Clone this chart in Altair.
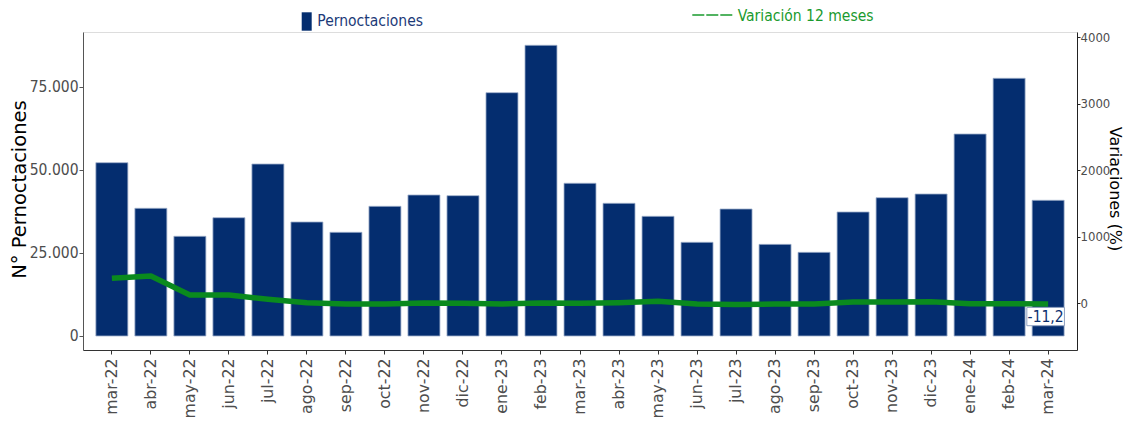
import altair as alt
import pandas as pd

meses = ["mar-22", "abr-22", "may-22", "jun-22", "jul-22", "ago-22", "sep-22", "oct-22",
         "nov-22", "dic-22", "ene-23", "feb-23", "mar-23", "abr-23", "may-23", "jun-23",
         "jul-23", "ago-23", "sep-23", "oct-23", "nov-23", "dic-23", "ene-24", "feb-24", "mar-24"]
pernoctaciones = [52200, 38460, 30030, 35630, 51800, 34340, 31230, 39060,
                  42470, 42270, 73290, 87560, 46000, 39970, 36050, 28220,
                  38250, 27600, 25200, 37350, 41660, 42770, 60840, 77620, 40870]
variacion = [376, 410, 125, 125, 62, 8, -10, -12,
             4, 0, -10, 5, 0, 10, 30, -10,
             -18, -12, -10, 18, 20, 25, -5, -5, -11.2]
etiqueta_mes = ["mar-24"]
etiqueta_valor = [-11.2]
etiqueta_texto = ["-11,2"]

NAVY = "#042D6F"
GREEN = "#0A8A1E"
COND = "DejaVu Sans Condensed"

df = pd.DataFrame({"mes": meses, "pern": pernoctaciones, "var": variacion})
df_lab = pd.DataFrame({"mes": etiqueta_mes, "var": etiqueta_valor, "txt": etiqueta_texto})
one = pd.DataFrame({"k": [0]})

xscale = alt.Scale(domain=meses, paddingInner=0.18, paddingOuter=0.33)
xenc = alt.X("mes:N", sort=meses, scale=xscale,
             axis=alt.Axis(title=None, labelAngle=-90, labelFont="DejaVu Sans", labelFontSize=15.8,
                           labelColor="#4d4d4d", labelBaseline="middle", labelAlign="right",
                           labelPadding=4, tickSize=4, tickColor="#333", domainColor="#333",
                           labelOverlap=False))

left_scale = alt.Scale(domain=[-4217, 91566], nice=False, zero=False)
right_scale = alt.Scale(domain=[-702, 4080], nice=False, zero=False)

bars = alt.Chart(df).mark_bar(color=NAVY, stroke="#9fb0cc", strokeWidth=0.8).encode(
    x=xenc,
    y=alt.Y("pern:Q", scale=left_scale,
            axis=alt.Axis(title="N° Pernoctaciones", values=[0, 25000, 50000, 75000],
                          labelExpr="replace(format(datum.value, ','), ',', '.')",
                          labelFont=COND, labelFontSize=15.5, labelColor="#4d4d4d",
                          labelPadding=1, tickSize=4, tickColor="#555", domainColor="#555",
                          titleFont="DejaVu Sans", titleFontSize=19.5, titleFontWeight="normal",
                          titleColor="#000", titleAngle=270, titleBaseline="alphabetic",
                          titleAlign="center", titleX=-57.5, titleY=157, grid=False)),
)

line = alt.Chart(df).mark_line(color=GREEN, strokeWidth=5.5, strokeJoin="round").encode(
    x=alt.X("mes:N", sort=meses, scale=xscale),
    y=alt.Y("var:Q", scale=right_scale,
            axis=alt.Axis(orient="right", title=None, values=[0, 1000, 2000, 3000, 4000],
                          format="d", labelFont=COND, labelFontSize=13,
                          labelColor="#4d4d4d", labelPadding=0, tickSize=3, tickColor="#222",
                          domainColor="#222", grid=False)),
)

box = alt.Chart(df_lab).mark_point(
    shape="M-1,-0.487L1,-0.487L1,0.487L-1,0.487Z", size=1414, filled=True, fill="white",
    stroke="#8ea0c0", strokeWidth=1, opacity=1, xOffset=-2.5, yOffset=12.5
).encode(
    x=alt.X("mes:N", sort=meses, scale=xscale),
    y=alt.Y("var:Q", scale=right_scale, axis=None),
)

label = alt.Chart(df_lab).mark_text(
    font=COND, fontSize=15.5, color="#0b2f6e", xOffset=-2.5, yOffset=12.5,
    baseline="middle", align="center"
).encode(
    x=alt.X("mes:N", sort=meses, scale=xscale),
    y=alt.Y("var:Q", scale=right_scale, axis=None),
    text="txt:N",
)

right_title = alt.Chart(one).mark_text(
    text="Variaciones (%)", font="DejaVu Sans", fontSize=16, color="#000", angle=90,
    align="center", baseline="alphabetic").encode(
    x=alt.value(1026.8), y=alt.value(157))

leg_sq = alt.Chart(one).mark_rect(color=NAVY).encode(
    x=alt.value(218.7), x2=alt.value(228.7), y=alt.value(-19.7), y2=alt.value(-1.3))
leg_t1 = alt.Chart(one).mark_text(
    text="Pernoctaciones", font=COND,
    fontSize=15.5, color="#1c3a78", align="left", baseline="alphabetic").encode(
    x=alt.value(234.3), y=alt.value(-6))
leg_dash = alt.Chart(one).mark_rule(color="#1a9a2e", strokeWidth=1.5, strokeDash=[12, 2]).encode(
    x=alt.value(609.3), x2=alt.value(649.3), y=alt.value(-17))
leg_t2 = alt.Chart(one).mark_text(
    text="Variación 12 meses", font=COND,
    fontSize=15.5, color="#1a9a2e", align="left", baseline="alphabetic").encode(
    x=alt.value(654.7), y=alt.value(-11.3))

chart = alt.layer(bars, line, box, label, right_title, leg_sq, leg_t1, leg_dash, leg_t2).resolve_scale(
    y="independent"
).properties(
    width=994, height=318,
    autosize=alt.AutoSizeParams(type="none"),
    padding={"left": 75, "top": 24, "right": 48, "bottom": 70},
).configure_view(stroke=None).configure(background="white")

chart.save("out.html", embed_options={"renderer": "svg", "actions": False})
